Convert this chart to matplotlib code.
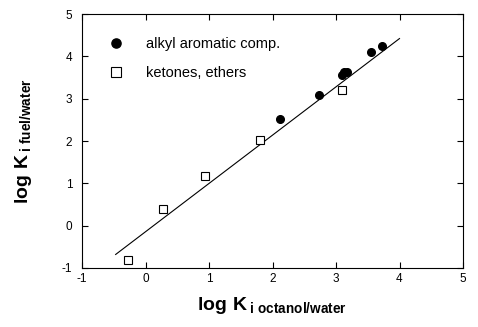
import matplotlib
matplotlib.use("Agg")
import matplotlib.pyplot as plt

plt.rcParams['font.family'] = ['Liberation Sans', 'DejaVu Sans']
plt.rcParams['mathtext.fontset'] = 'custom'
plt.rcParams['mathtext.rm'] = 'Liberation Sans'
plt.rcParams['mathtext.bf'] = 'Liberation Sans:bold'
plt.rcParams['axes.unicode_minus'] = False

# alkyl aromatic compounds (filled circles)
arom_x = [2.12, 2.73, 3.10, 3.13, 3.17, 3.55, 3.72]
arom_y = [2.53, 3.08, 3.55, 3.62, 3.64, 4.10, 4.25]

# ketones, ethers (open squares)
ket_x = [-0.27, 0.28, 0.93, 1.81, 3.09]
ket_y = [-0.82, 0.40, 1.18, 2.02, 3.20]

# regression line endpoints
fit_x = [-0.47, 4.0]
fit_y = [-0.68, 4.42]

fig = plt.figure(figsize=(4.78, 3.27), dpi=100)
ax = fig.add_axes([82/478, 1 - 268/327, 381/478, 254/327])

ax.plot(fit_x, fit_y, color='black', lw=0.8)
ax.plot(arom_x, arom_y, 'o', color='black', ms=5.5, label='alkyl aromatic comp.')
ax.plot(ket_x, ket_y, 's', mfc='white', mec='black', mew=0.8, ms=6, label='ketones, ethers')

ax.set_xlim(-1, 5)
ax.set_ylim(-1, 5)
ax.set_xticks(range(-1, 6))
ax.set_yticks(range(-1, 6))
ax.tick_params(direction='in', top=True, right=True, labelsize=8.5, length=4, width=0.8)
ax.tick_params(axis='y', pad=7)
for s in ax.spines.values():
    s.set_linewidth(0.8)

ax.legend(loc='upper left', bbox_to_anchor=(0.035, 0.931), borderaxespad=0,
          frameon=False, fontsize=10.5, handletextpad=1.1, labelspacing=1.0,
          markerscale=1.2)

ax.set_xlabel(r'$\mathbf{log\ K}_{\,\mathbf{i\ octanol/water}}$', fontsize=14, labelpad=7)
ax.set_ylabel(r'$\mathbf{log\ K}_{\,\mathbf{i\ fuel/water}}$', fontsize=14, labelpad=20)

fig.savefig('out.png', dpi=100)
